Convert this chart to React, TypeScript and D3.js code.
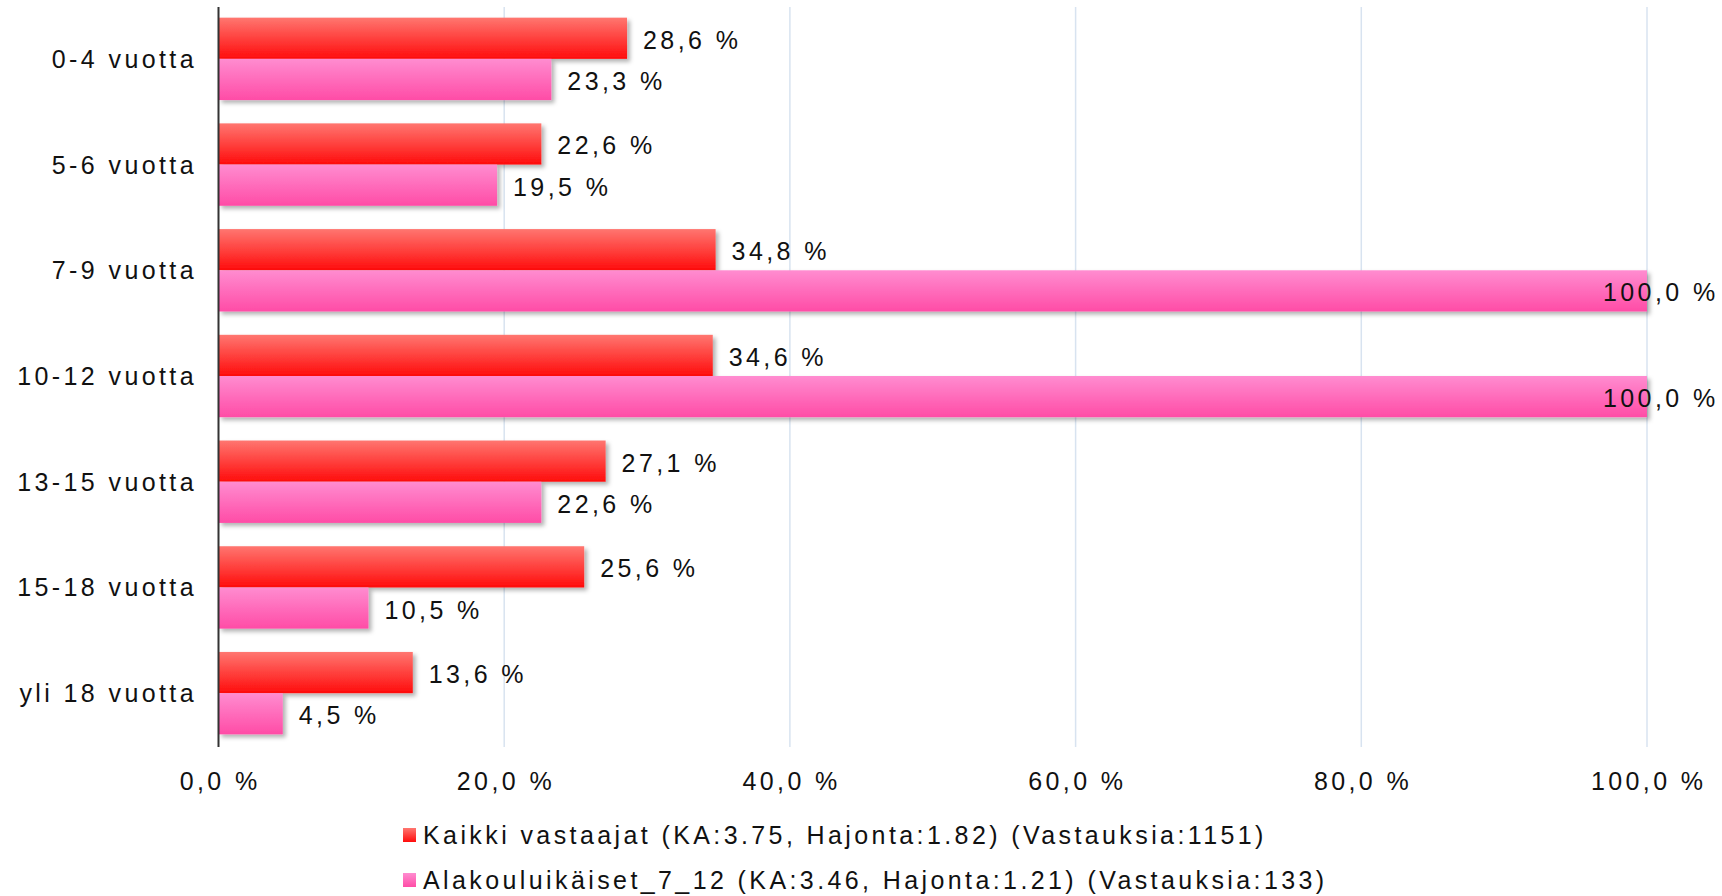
import React from "react";
import * as d3 from "d3";

const categories = ["0-4 vuotta", "5-6 vuotta", "7-9 vuotta", "10-12 vuotta", "13-15 vuotta", "15-18 vuotta", "yli 18 vuotta"];
const seriesNames = [
  "Kaikki vastaajat (KA:3.75, Hajonta:1.82) (Vastauksia:1151)",
  "Alakouluikäiset_7_12 (KA:3.46, Hajonta:1.21) (Vastauksia:133)",
];
const kaikki = [28.6, 22.6, 34.8, 34.6, 27.1, 25.6, 13.6];
const alakoulu = [23.3, 19.5, 100.0, 100.0, 22.6, 10.5, 4.5];
const ticks = [0, 20, 40, 60, 80, 100];

const W = 1722;
const H = 896;
const FONT = "'Liberation Sans', Arial, sans-serif";
const FS = 25;
const LS = 3.4;

const fmt = (v: number) => v.toFixed(1).replace(".", ",") + " %";

export default function App() {
  const x = d3.scaleLinear().domain([0, 100]).range([218.5, 1647]);
  const y = d3.scaleBand<string>().domain(categories).range([6, 746]).paddingInner(0).paddingOuter(0);
  const step = y.step();
  const barH = 41.2;
  const plotTop = 7;
  const plotBottom = 747;
  const series = [
    { name: seriesNames[0], values: kaikki, fill: "url(#gRed)" },
    { name: seriesNames[1], values: alakoulu, fill: "url(#gPink)" },
  ];

  return (
    <svg width={W} height={H} style={{ position: "absolute", left: 0, top: 0, background: "#fff" }}>
      <defs>
        <linearGradient id="gRed" x1="0" y1="0" x2="0" y2="1">
          <stop offset="0" stopColor="#ff7670" />
          <stop offset="1" stopColor="#ff0c0c" />
        </linearGradient>
        <linearGradient id="gPink" x1="0" y1="0" x2="0" y2="1">
          <stop offset="0" stopColor="#ff8cd0" />
          <stop offset="1" stopColor="#ff4ca6" />
        </linearGradient>
        <filter id="shadow" x="-5%" y="-20%" width="115%" height="160%">
          <feDropShadow dx="3" dy="3" stdDeviation="2" floodColor="#000" floodOpacity="0.3" />
        </filter>
      </defs>

      {ticks.filter((t) => t > 0).map((t) => (
        <line key={"g" + t} x1={x(t)} x2={x(t)} y1={plotTop} y2={plotBottom} stroke="#d8e3f0" strokeWidth={1.5} />
      ))}

      {categories.map((c, i) => {
        const cy = (y(c) as number) + step / 2;
        return (
          <g key={c}>
            {series.map((s, si) => {
              const top = cy - barH + si * barH;
              const v = s.values[i];
              return (
                <rect key={si} x={x(0)} y={top} width={x(v) - x(0)} height={barH} fill={s.fill} filter="url(#shadow)" />
              );
            })}
          </g>
        );
      })}

      <line x1={x(0)} x2={x(0)} y1={plotTop} y2={plotBottom} stroke="#333" strokeWidth={2} />

      {categories.map((c, i) => {
        const cy = (y(c) as number) + step / 2;
        return (
          <g key={"l" + c}>
            <text x={197} y={cy} textAnchor="end" dominantBaseline="central" fontFamily={FONT} fontSize={FS} letterSpacing={LS} fill="#111">
              {c}
            </text>
            {series.map((s, si) => {
              const v = s.values[i];
              const labelY = cy - barH / 2 + si * barH + 1.5;
              const end = x(v);
              const lblW = 113;
              let lx = end + 16;
              if (lx + lblW > 1716) lx = 1716 - lblW;
              return (
                <text key={si} x={lx} y={labelY} dominantBaseline="central" fontFamily={FONT} fontSize={FS} letterSpacing={LS} fill="#111">
                  {fmt(v)}
                </text>
              );
            })}
          </g>
        );
      })}

      {ticks.map((t) => (
        <text key={"t" + t} x={x(t) + LS / 2} y={781} textAnchor="middle" dominantBaseline="central" fontFamily={FONT} fontSize={FS} letterSpacing={LS} fill="#111">
          {fmt(t)}
        </text>
      ))}

      {series.map((s, si) => {
        const ly = 835 + si * 45;
        return (
          <g key={"lg" + si}>
            <rect x={403} y={ly - 7} width={13} height={14} fill={s.fill} />
            <text x={423} y={ly} dominantBaseline="central" fontFamily={FONT} fontSize={FS} letterSpacing={LS} fill="#111">
              {s.name}
            </text>
          </g>
        );
      })}
    </svg>
  );
}
